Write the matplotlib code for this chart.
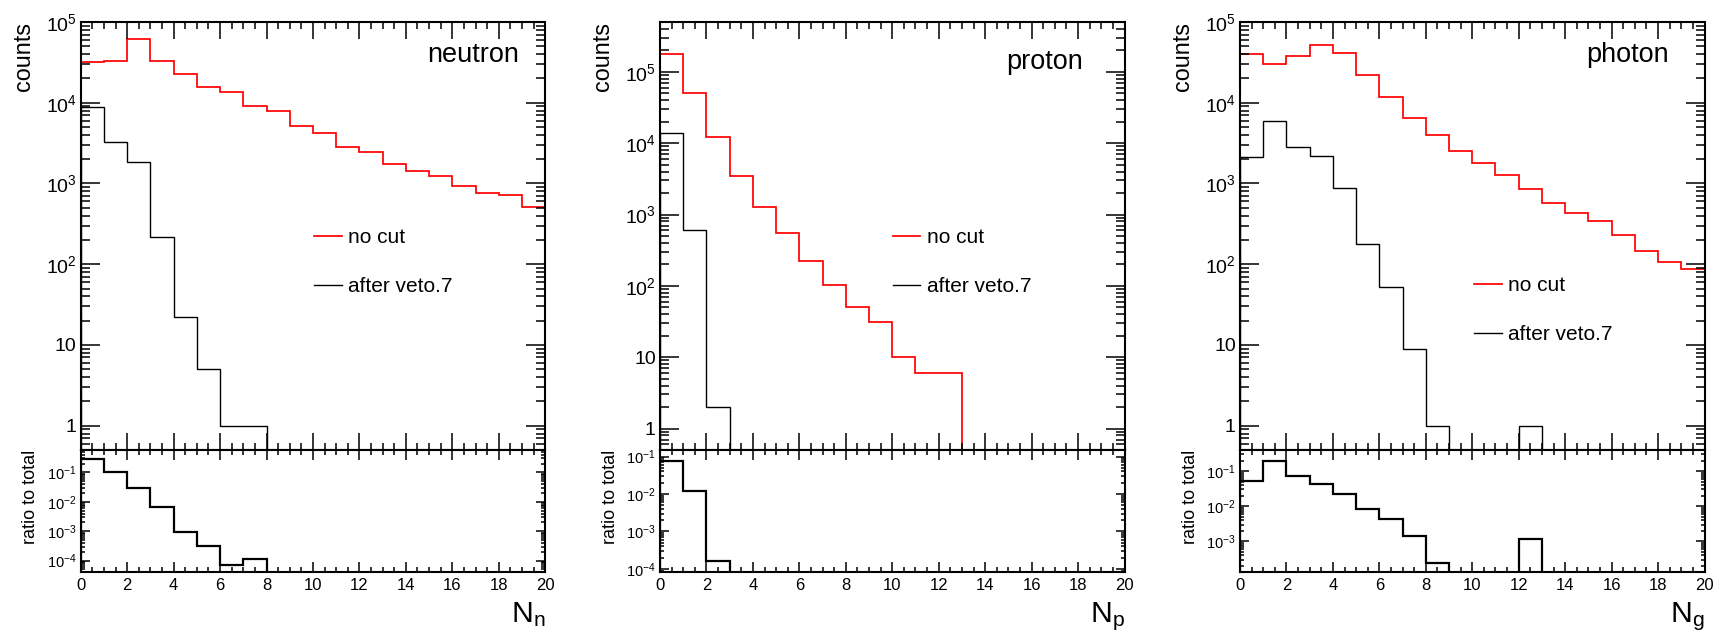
import matplotlib
matplotlib.use('Agg')
import matplotlib.pyplot as plt
from matplotlib.ticker import LogLocator, MultipleLocator, FuncFormatter, NullFormatter
import numpy as np

plt.rcParams['font.family'] = ['Liberation Sans', 'DejaVu Sans']
plt.rcParams['mathtext.fontset'] = 'custom'
plt.rcParams['mathtext.rm'] = 'Liberation Sans'
plt.rcParams['mathtext.it'] = 'Liberation Sans:italic'
plt.rcParams['mathtext.bf'] = 'Liberation Sans:bold'

# bin edges 0..20, one bin per multiplicity
edges = np.arange(0, 21)

# neutron
neutron_nocut = [32000, 33000, 62000, 33000, 23000, 15800, 13700, 9100, 7800, 5200,
                 4250, 2850, 2450, 1740, 1440, 1240, 935, 767, 710, 513]
neutron_veto = [8900, 3300, 1860, 217, 22, 5, 1, 1, 0, 0,
                0, 0, 0, 0, 0, 0, 0, 0, 0, 0]
neutron_ratio = [0.28, 0.10, 0.030, 0.0066, 9.6e-4, 3.2e-4, 7.3e-5, 1.1e-4, 0, 0,
                 0, 0, 0, 0, 0, 0, 0, 0, 0, 0]

# proton
proton_nocut = [180000, 51000, 12300, 3500, 1260, 556, 225, 102, 51, 31,
                10, 6, 6, 0, 0, 0, 0, 0, 0, 0]
proton_veto = [13800, 598, 2, 0, 0, 0, 0, 0, 0, 0,
               0, 0, 0, 0, 0, 0, 0, 0, 0, 0]
proton_ratio = [0.077, 0.0117, 1.6e-4, 0, 0, 0, 0, 0, 0, 0,
                0, 0, 0, 0, 0, 0, 0, 0, 0, 0]

# photon
photon_nocut = [40000, 30000, 38000, 52000, 41000, 22000, 11900, 6400, 4000, 2540,
                1780, 1260, 860, 572, 437, 342, 227, 147, 107, 88]
photon_veto = [2140, 6000, 2800, 2180, 885, 178, 52, 9, 1, 0,
               0, 0, 1, 0, 0, 0, 0, 0, 0, 0]
photon_ratio = [0.053, 0.20, 0.073, 0.043, 0.022, 0.0082, 0.0044, 0.0014, 2.4e-4, 0,
                0, 0, 1.17e-3, 0, 0, 0, 0, 0, 0, 0]

names = ['neutron', 'proton', 'photon']
xlabels = ['n', 'p', 'g']
legend_labels = ['no cut', 'after veto.7']

# layout (pixels of a 1720x634 canvas)
W, H = 1720, 634
lefts = [80.7, 660, 1240]
width = 464.5
top_ylims = [(0.5, 1e5), (0.5, 5e5), (0.5, 1e5)]
ratio_ylims = [(4e-5, 0.58), (8.1e-5, 0.15), (1.3e-4, 0.4)]
name_pos = [(0.943, 0.923), (0.911, 0.907), (0.924, 0.924)]
leg_pos = [(0.502, 0.518), (0.501, 0.518), (0.504, 0.406)]


def log_label(v, pos):
    e = int(round(np.log10(v)))
    if e == 0:
        return '1'
    if e == 1:
        return '10'
    return r'$\mathregular{10^{%d}}$' % e


def pos_vals(v):
    # empty bins sit below the axis, like ROOT draws them on a log pad
    v = np.asarray(v, dtype=float)
    return np.where(v > 0, v, 1e-9)


fig = plt.figure(figsize=(W / 100, H / 100), dpi=100)

data = [(neutron_nocut, neutron_veto, neutron_ratio),
        (proton_nocut, proton_veto, proton_ratio),
        (photon_nocut, photon_veto, photon_ratio)]

for i in range(3):
    nocut, veto, ratio = data[i]
    x0 = lefts[i] / W
    w = width / W
    ax = fig.add_axes([x0, 1 - 450 / H, w, 428 / H])
    axr = fig.add_axes([x0, 1 - 572.3 / H, w, 122.3 / H], sharex=ax)

    # --- upper pad ---
    ax.stairs(pos_vals(nocut), edges, baseline=1e-9, color='#ff0000', lw=1.25)
    ax.stairs(pos_vals(veto), edges, baseline=1e-9, color='black', lw=1.0)
    ax.set_yscale('log')
    ax.set_ylim(*top_ylims[i])
    ax.set_xlim(0, 20)
    ax.yaxis.set_major_locator(LogLocator(base=10, numticks=20))
    ax.yaxis.set_minor_locator(LogLocator(base=10, subs=np.arange(2, 10), numticks=20))
    ax.yaxis.set_major_formatter(FuncFormatter(log_label))
    ax.yaxis.set_minor_formatter(NullFormatter())
    ax.xaxis.set_major_locator(MultipleLocator(2))
    ax.xaxis.set_minor_locator(MultipleLocator(0.5))
    ax.tick_params(which='both', direction='in', top=True, right=True, labelbottom=False, width=1.1)
    ax.tick_params(axis='y', which='major', length=14, labelsize=14, pad=3)
    ax.tick_params(axis='y', which='minor', length=6.5)
    ax.tick_params(axis='x', which='major', length=12)
    ax.tick_params(axis='x', which='minor', length=5)
    for s in ax.spines.values():
        s.set_linewidth(1.5)

    ax.text(-0.123, 1.0, 'counts', rotation=90, ha='center', va='top', fontsize=16.8,
            transform=ax.transAxes)
    ax.text(name_pos[i][0], name_pos[i][1], names[i], ha='right', va='center', fontsize=19.5,
            transform=ax.transAxes)
    ax.legend(loc='upper left', bbox_to_anchor=leg_pos[i], frameon=False, fontsize=15,
              handlelength=1.33, handletextpad=0.3, labelspacing=1.42, borderpad=0,
              borderaxespad=0, handles=[plt.Line2D([], [], color='#ff0000', lw=1.25),
                                        plt.Line2D([], [], color='black', lw=1.0)],
              labels=legend_labels)

    # --- ratio pad ---
    axr.stairs(pos_vals(ratio), edges, baseline=1e-12, color='black', lw=1.6)
    axr.set_yscale('log')
    axr.set_ylim(*ratio_ylims[i])
    axr.set_xlim(0, 20)
    axr.yaxis.set_major_locator(LogLocator(base=10, numticks=20))
    axr.yaxis.set_minor_locator(LogLocator(base=10, subs=np.arange(2, 10), numticks=20))
    axr.yaxis.set_major_formatter(FuncFormatter(log_label))
    axr.yaxis.set_minor_formatter(NullFormatter())
    axr.tick_params(which='both', direction='in', top=True, right=True, width=1.1)
    axr.tick_params(axis='y', which='major', length=6.5, labelsize=10.5, pad=3)
    axr.tick_params(axis='y', which='minor', length=3)
    axr.tick_params(axis='x', which='major', length=7, labelsize=12, pad=4)
    axr.tick_params(axis='x', which='minor', length=3.5)
    for s in axr.spines.values():
        s.set_linewidth(1.5)
    axr.text(-0.1076, 1.0, 'ratio to total', rotation=90, ha='center', va='top', fontsize=13,
             transform=axr.transAxes)
    axr.text(1.0, -0.23, r'$\mathregular{N_{%s}}$' % xlabels[i], ha='right', va='top',
             fontsize=21.8, transform=axr.transAxes)

fig.savefig('out.png', dpi=100)
